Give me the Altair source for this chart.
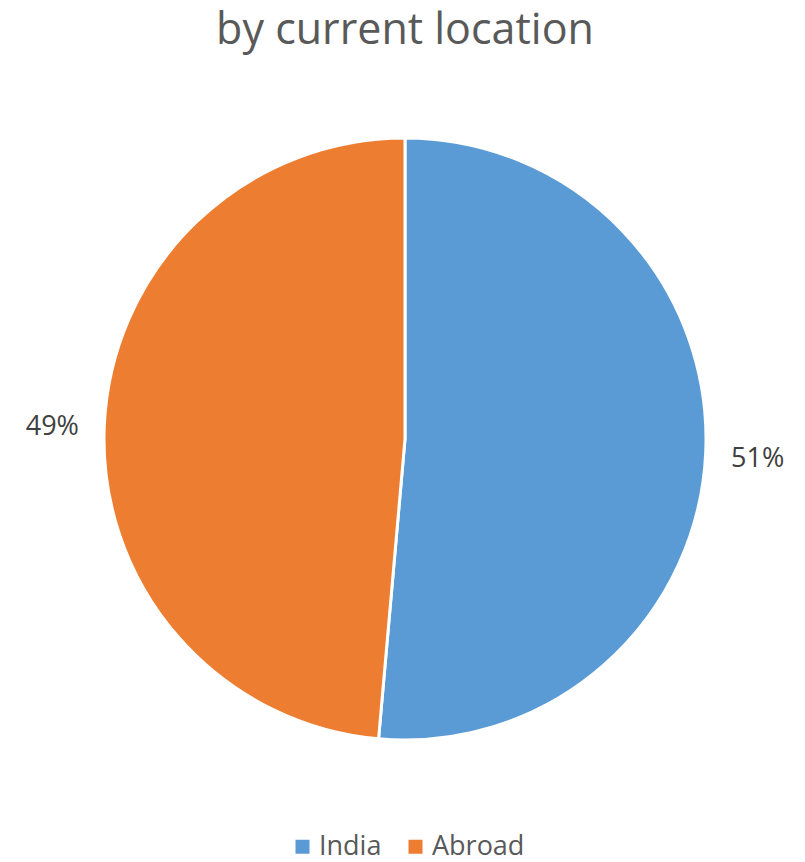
import altair as alt
import pandas as pd

categories = ["India", "Abroad"]
values = [51.4, 48.6]
labels = ["51%", "49%"]
colors = ["#5B9BD5", "#ED7D31"]
title_text = "by current location"

df = pd.DataFrame({"cat": categories, "value": values, "label": labels, "order": [0, 1]})

CX, CY = 397, 431

base = alt.Chart(df).encode(
    theta=alt.Theta("value:Q", stack=True),
    order=alt.Order("order:Q"),
    x=alt.value(CX),
    y=alt.value(CY),
)

pie = base.mark_arc(outerRadius=301, stroke="white", strokeWidth=3).encode(
    color=alt.Color(
        "cat:N",
        scale=alt.Scale(domain=categories, range=colors),
        sort=categories,
        legend=alt.Legend(
            title=None,
            orient="none",
            legendX=281,
            legendY=825,
            direction="horizontal",
            symbolType="square",
            symbolSize=196,
            symbolStrokeWidth=0,
            labelFontSize=27,
            labelFont="Open Sans",
            labelColor="#595959",
            labelOffset=3,
            columnPadding=20,
        ),
    )
)

text = base.mark_text(radius=353, fontSize=27, font="Open Sans", color="#404040", dy=4).encode(
    text="label:N"
)

title = alt.Chart(pd.DataFrame({"t": [title_text]})).mark_text(
    fontSize=43, font="Open Sans", color="#595959", baseline="alphabetic", align="center"
).encode(text="t:N", x=alt.value(397), y=alt.value(36))

chart = alt.layer(pie, text, title).properties(
    width=789, height=853, autosize=alt.AutoSizeParams(type="none"), padding=0
).configure_view(stroke=None)

chart.save("out.html", embed_options={"renderer": "svg", "actions": False})
